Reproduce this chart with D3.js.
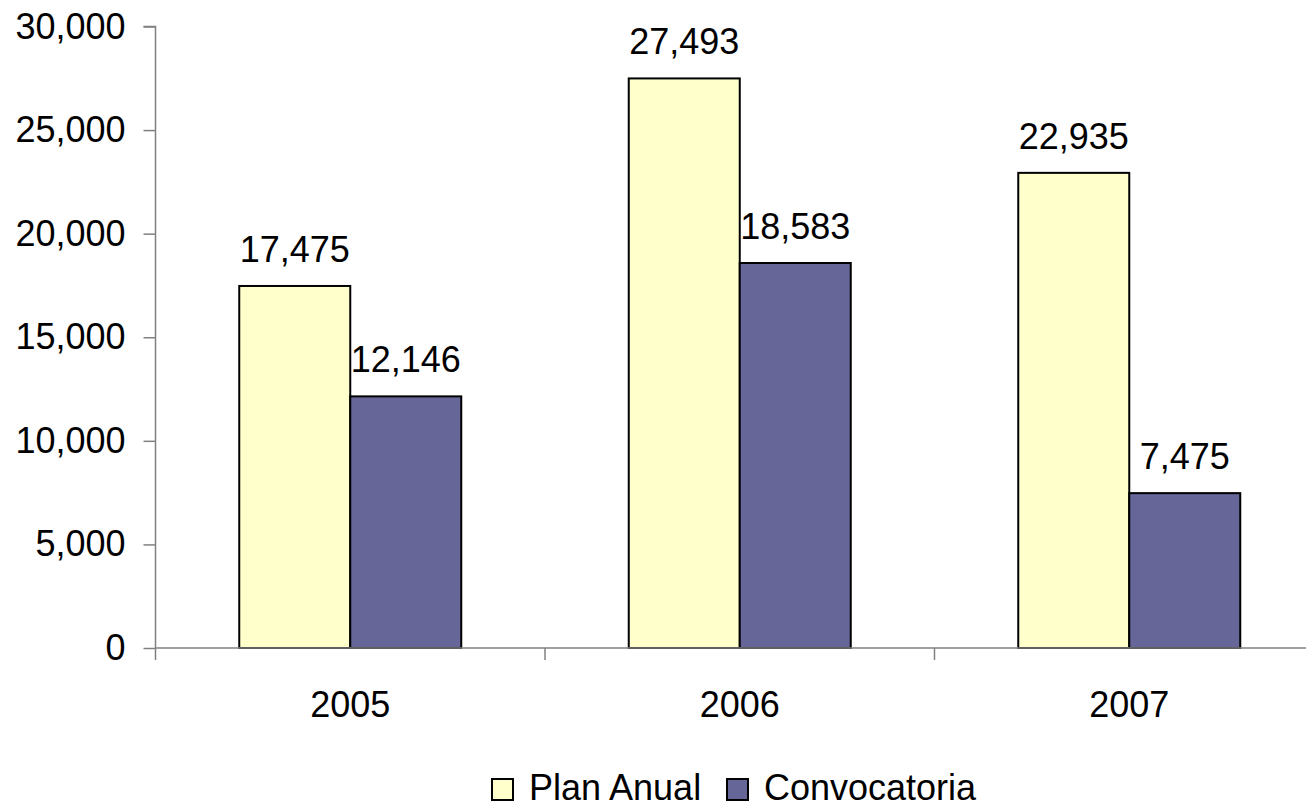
<!DOCTYPE html>
<html><head><meta charset="utf-8">
<script src="https://cdn.jsdelivr.net/npm/d3@7"></script>
<style>body{margin:0;background:#fff}svg{display:block}text{font-family:"Liberation Sans",Arial,sans-serif;fill:#000}</style>
</head><body>
<script>
const categories = ["2005","2006","2007"];
const seriesNames = ["Plan Anual","Convocatoria"];
const planAnual = [17475, 27493, 22935];
const convocatoria = [12146, 18583, 7475];
const yTicks = [0,5000,10000,15000,20000,25000,30000];
const colors = ["#FFFFCC","#666699"];

const W=1306,H=809;
const svg=d3.select("body").append("svg").attr("width",W).attr("height",H);
const pLeft=155.5, pRight=1324, pTop=26.5, pBottom=648;
const y=d3.scaleLinear().domain([0,30000]).range([pBottom,pTop]);
const x0=d3.scaleBand().domain(categories).range([pLeft,pRight]).padding(0);
const groupW=222;
const x1=d3.scaleBand().domain(seriesNames).range([0,groupW]);
const fmt=d3.format(",");
const data=categories.map((c,i)=>({c,vals:[planAnual[i],convocatoria[i]]}));

// bars
const g=svg.append("g");
data.forEach(d=>{
  const off=x0(d.c)+(x0.bandwidth()-groupW)/2;
  d.vals.forEach((v,j)=>{
    g.append("rect").attr("x",off+x1(seriesNames[j])).attr("y",y(v))
     .attr("width",x1.bandwidth()).attr("height",y(0)-y(v))
     .attr("fill",colors[j]).attr("stroke","#000").attr("stroke-width",2);
    g.append("text").attr("x",off+x1(seriesNames[j])+x1.bandwidth()/2).attr("y",y(v)-24)
     .attr("text-anchor","middle").attr("font-size",36).text(fmt(v));
  });
});

// y axis
const ya=svg.append("g").attr("transform",`translate(${pLeft},0)`)
  .call(d3.axisLeft(y).tickValues(yTicks).tickSize(12).tickPadding(18).tickFormat(fmt));
ya.select(".domain").attr("stroke","#808080").attr("stroke-width",1.5).attr("d",`M-12,${pTop}H0V${pBottom+12}`);
ya.selectAll(".tick line").attr("stroke","#808080").attr("stroke-width",1.5);
ya.selectAll(".tick text").attr("font-size",36).attr("font-family","Liberation Sans, Arial, sans-serif").attr("fill","#000");

// x axis
const xa=svg.append("g");
xa.append("line").attr("x1",pLeft).attr("x2",W).attr("y1",pBottom).attr("y2",pBottom).attr("stroke","#808080").attr("stroke-width",1.5);
categories.slice(1).forEach(c=>{
  xa.append("line").attr("x1",x0(c)).attr("x2",x0(c)).attr("y1",pBottom).attr("y2",pBottom+12).attr("stroke","#808080").attr("stroke-width",1.5);
});
categories.forEach(c=>{
  xa.append("text").attr("x",x0(c)+x0.bandwidth()/2).attr("y",717).attr("text-anchor","middle").attr("font-size",36).text(c);
});

// legend
const lg=svg.append("g");
const legX=[492,727];
seriesNames.forEach((s,j)=>{
  lg.append("rect").attr("x",legX[j]).attr("y",779).attr("width",21).attr("height",21).attr("fill",colors[j]).attr("stroke","#000").attr("stroke-width",2);
  lg.append("text").attr("x",legX[j]+37).attr("y",800).attr("font-size",36).text(s);
});
</script>
</body></html>
